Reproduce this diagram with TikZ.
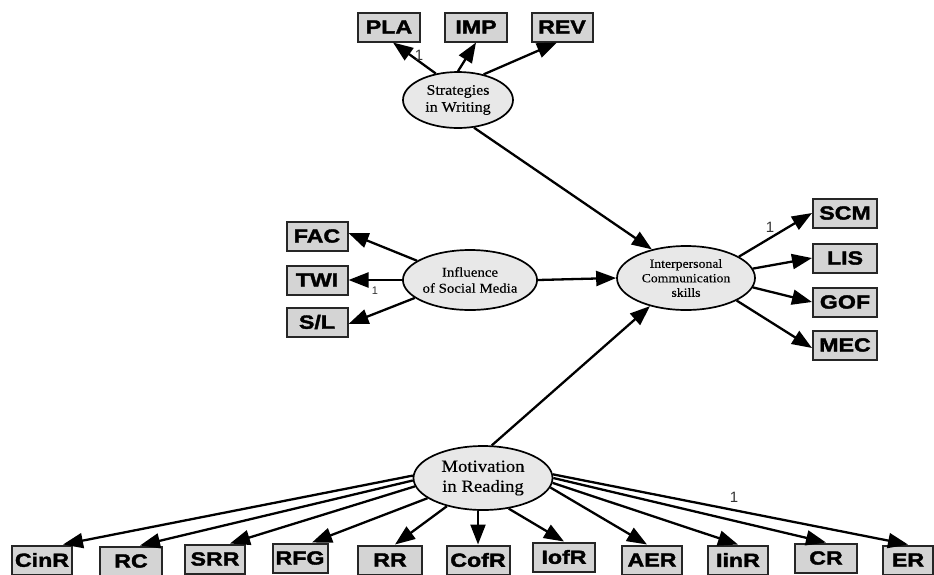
\documentclass[tikz,border=0pt]{standalone}
\usepackage{fontspec}
\setsansfont{Liberation Sans}
\newfontfamily\boxfont[UprightFont={* Bold},FakeBold=2,FakeStretch=1.22]{Liberation Sans}
\newfontfamily\latfont[FakeStretch=1.1,FakeBold=0.3]{Liberation Serif}
\usetikzlibrary{arrows.meta,shapes.geometric}
\begin{document}
\begin{tikzpicture}[x=1pt,y=-1pt,
  obs/.style={draw=black!85,line width=2pt,fill=black!17,minimum height=29pt,inner sep=0pt,
    font=\boxfont\fontsize{19}{19}\selectfont},
  lat/.style={draw=black,line width=1.7pt,fill=black!9,ellipse,inner sep=0pt,align=center},
  arr/.style={line width=2.3pt,-{Triangle[length=20pt,width=15pt]}},
  one/.style={font=\sffamily\fontsize{15}{15}\selectfont,text=black!80}]
\useasboundingbox (0,0) rectangle (934,574);
% latent variables
\node[lat,minimum width=110pt,minimum height=56pt,font=\latfont\fontsize{14.5}{17}\selectfont] (S) at (458,100) {Strategies\\in Writing};
\node[lat,minimum width=134pt,minimum height=60pt,font=\latfont\fontsize{13.5}{16}\selectfont] (F) at (470,280) {Influence\\of Social Media};
\node[lat,minimum width=138pt,minimum height=64pt,font=\latfont\fontsize{12.5}{14.5}\selectfont] (I) at (686,278) {Interpersonal\\Communication\\skills};
\node[lat,minimum width=139pt,minimum height=64pt,font=\latfont\fontsize{17}{20}\selectfont] (M) at (483,478) {Motivation\\in Reading};
% top indicators
\node[obs,minimum width=62pt] (PLA) at (389,27) {PLA};
\node[obs,minimum width=62pt] (IMP) at (476,27) {IMP};
\node[obs,minimum width=61pt] (REV) at (562,27) {REV};
% left indicators
\node[obs,minimum width=61pt] (FAC) at (317,236) {FAC};
\node[obs,minimum width=61pt] (TWI) at (317,280) {TWI};
\node[obs,minimum width=61pt] (SL) at (317,322) {S/L};
% right indicators
\node[obs,minimum width=64pt] (SCM) at (845,213) {SCM};
\node[obs,minimum width=64pt] (LIS) at (845,258) {LIS};
\node[obs,minimum width=64pt] (GOF) at (845,302) {GOF};
\node[obs,minimum width=64pt] (MEC) at (845,345) {MEC};
% bottom indicators
\node[obs,minimum width=60pt] (CinR) at (42,560) {CinR};
\node[obs,minimum width=62pt] (RC) at (131,561) {RC};
\node[obs,minimum width=60pt] (SRR) at (215,559) {SRR};
\node[obs,minimum width=55pt] (RFG) at (300,558) {RFG};
\node[obs,minimum width=64pt] (RR) at (390,560) {RR};
\node[obs,minimum width=63pt] (CofR) at (478,560) {CofR};
\node[obs,minimum width=62pt] (IofR) at (564,557) {IofR};
\node[obs,minimum width=60pt] (AER) at (652,560) {AER};
\node[obs,minimum width=60pt] (IinR) at (738,560) {IinR};
\node[obs,minimum width=62pt] (CR) at (826,558) {CR};
\node[obs,minimum width=50pt] (ER) at (908,560) {ER};
% structural paths
\draw[arr] (S.-60) -- (I.140);
\draw[arr] (F.east) -- (I.west);
\draw[arr] (M.75) -- (I.218);
% strategies
\draw[arr] (S.130) -- ([xshift=4pt]PLA.south);
\draw[arr] (S.north) -- (IMP.south);
\draw[arr] (S.45) -- ([xshift=-5pt]REV.south);
% influence
\draw[arr] (F.160) -- ([yshift=3pt]FAC.east);
\draw[arr] (F.west) -- (TWI.east);
\draw[arr] (F.198) -- ([yshift=-2pt]SL.east);
% interpersonal
\draw[arr] (I.22) -- (SCM.west);
\draw[arr] (I.8) -- (LIS.west);
\draw[arr] (I.-8) -- (GOF.west);
\draw[arr] (I.-24) -- ([yshift=-3pt]MEC.west);
% motivation
\draw[arr] (M.178) -- ([xshift=21pt]CinR.north);
\draw[arr] (M.182) -- ([xshift=9pt]RC.north);
\draw[arr] (M.187) -- ([xshift=15pt]SRR.north);
\draw[arr] (M.200) -- ([xshift=12pt]RFG.north);
\draw[arr] (M.218) -- ([xshift=5pt]RR.north);
\draw[arr] ([xshift=-5pt]M.south) -- (CofR.north);
\draw[arr] (M.-50) -- (IofR.north);
\draw[arr] (M.-8) -- ([xshift=-5pt]AER.north);
\draw[arr] (M.-4) -- (IinR.north);
\draw[arr] (M.0) -- (CR.north);
\draw[arr] (M.3) -- (ER.north);
% labels
\node[one] (l1) at (419,55) {1};
\node[one] (l2) at (770,227) {1};
\node[one,font=\sffamily\fontsize{11}{11}\selectfont] (l3) at (375,291) {1};
\node[one] (l4) at (734,497) {1};
\end{tikzpicture}
\end{document}
